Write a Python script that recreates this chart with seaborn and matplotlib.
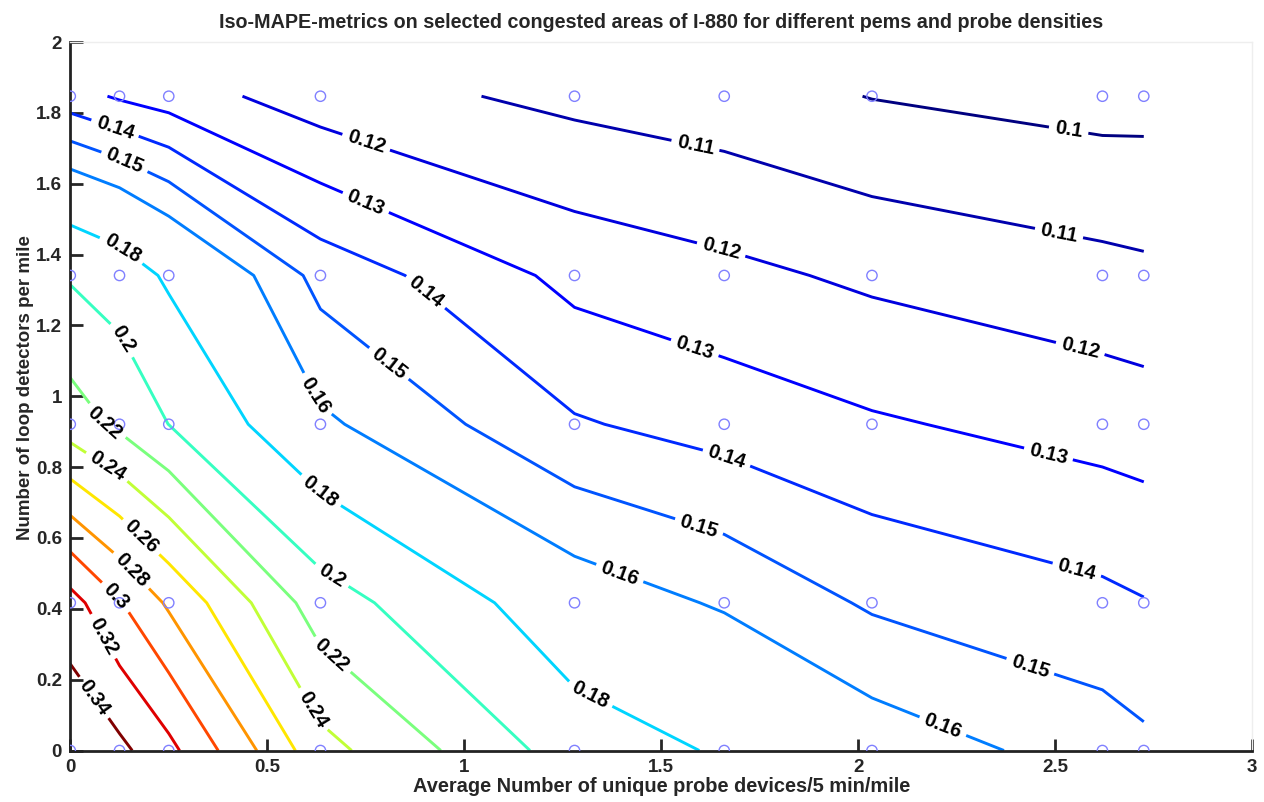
import numpy as np
import pandas as pd
import matplotlib
matplotlib.use('Agg')
import matplotlib.pyplot as plt
import seaborn as sns

# grid of simulated densities
probe_density = [0, 0.125, 0.25, 0.635, 1.28, 1.66, 2.035, 2.62, 2.725]
loop_density = [0, 0.417, 0.921, 1.341, 1.847]

# MAPE read at each grid node, one list per loop density (bottom to top)
mape_loop_0 = [0.357, 0.345, 0.3256, 0.247, 0.190, 0.178, 0.1663, 0.1553, 0.1523]
mape_loop_1 = [0.328, 0.3015, 0.277, 0.209, 0.1667, 0.1587, 0.1486, 0.1424, 0.1405]
mape_loop_2 = [0.230, 0.216, 0.1998, 0.162, 0.141, 0.136, 0.1312, 0.1261, 0.125]
mape_loop_3 = [0.198, 0.190, 0.1772, 0.1465, 0.127, 0.1226, 0.1181, 0.1132, 0.1121]
mape_loop_4 = [0.134, 0.1287, 0.1252, 0.1145, 0.1074, 0.1044, 0.0997, 0.0963, 0.0965]

levels = [0.1, 0.11, 0.12, 0.13, 0.14, 0.15, 0.16, 0.18, 0.2,
          0.22, 0.24, 0.26, 0.28, 0.3, 0.32, 0.34]

# where the contour labels sit
label_pos = [(0.111, 1.748), (0.133, 1.651), (0.130, 1.414), (0.130, 1.158),
             (0.084, 0.920), (0.088, 0.792), (0.173, 0.595), (0.152, 0.505),
             (0.113, 0.430), (0.082, 0.321), (0.057, 0.147), (0.608, 0.110),
             (0.657, 0.260), (0.657, 0.482), (0.627, 0.722), (0.617, 0.999),
             (0.803, 1.084), (0.900, 1.291), (0.748, 1.541), (0.745, 1.696),
             (1.585, 1.698), (1.651, 1.409), (1.585, 1.136), (1.664, 0.821),
             (1.591, 0.615), (1.391, 0.489), (1.317, 0.152), (2.533, 1.742),
             (2.508, 1.450), (2.561, 1.122), (2.480, 0.823), (2.553, 0.502),
             (2.434, 0.227), (2.212, 0.060)]

sns.set_style('white')
plt.rcParams['font.family'] = ['Liberation Sans', 'DejaVu Sans']
plt.rcParams['font.weight'] = 'bold'

Z = np.array([mape_loop_0, mape_loop_1, mape_loop_2, mape_loop_3, mape_loop_4])
X, Y = np.meshgrid(probe_density, loop_density)
pts = pd.DataFrame({'probe': X.ravel(), 'loop': Y.ravel()})

fig = plt.figure(figsize=(12.64, 8.02), dpi=100)
ax = fig.add_axes([0.0556, 0.0642, 0.935, 0.8834])

# colours spread over the level range, like matlab's jet contour
cs = ax.contour(X, Y, Z, levels=levels, cmap='jet',
                vmin=min(levels), vmax=max(levels), linewidths=2.1)
labels = ax.clabel(cs, levels, manual=label_pos, inline=True, fmt='%g',
                   fontsize=14.5, colors='k', inline_spacing=8)
for t in labels:
    t.set_fontweight('bold')

sns.scatterplot(data=pts, x='probe', y='loop', ax=ax, marker='o', s=55,
                color='#8080ff', facecolor='none', edgecolor='#8080ff',
                linewidth=1, zorder=3)

ax.set_xlim(0, 3)
ax.set_ylim(0, 2)
ax.set_xticks([0, 0.5, 1, 1.5, 2, 2.5, 3])
ax.set_yticks(np.arange(0, 2.01, 0.2))
ax.xaxis.set_major_formatter(matplotlib.ticker.FormatStrFormatter('%g'))
ax.yaxis.set_major_formatter(matplotlib.ticker.FormatStrFormatter('%g'))
ax.tick_params(direction='in', length=9, width=2, labelsize=13.5,
               top=False, right=False, left=True, bottom=True, pad=6)
for s in ['left', 'bottom']:
    ax.spines[s].set_linewidth(2)
    ax.spines[s].set_color('#222222')
for s in ['top', 'right']:
    ax.spines[s].set_linewidth(1)
    ax.spines[s].set_color('#eeeeee')

ax.set_xlabel('Average Number of unique probe devices/5 min/mile',
              fontsize=14.4, fontweight='bold', labelpad=1)
ax.set_ylabel('Number of loop detectors per mile', fontsize=13.5,
              fontweight='bold')
ax.yaxis.set_label_coords(-0.031, 0.512)
ax.set_title('Iso-MAPE-metrics on selected congested areas of I-880 for different pems and probe densities',
             fontsize=14.2, fontweight='bold', pad=10)

fig.savefig('out.png', dpi=100)
